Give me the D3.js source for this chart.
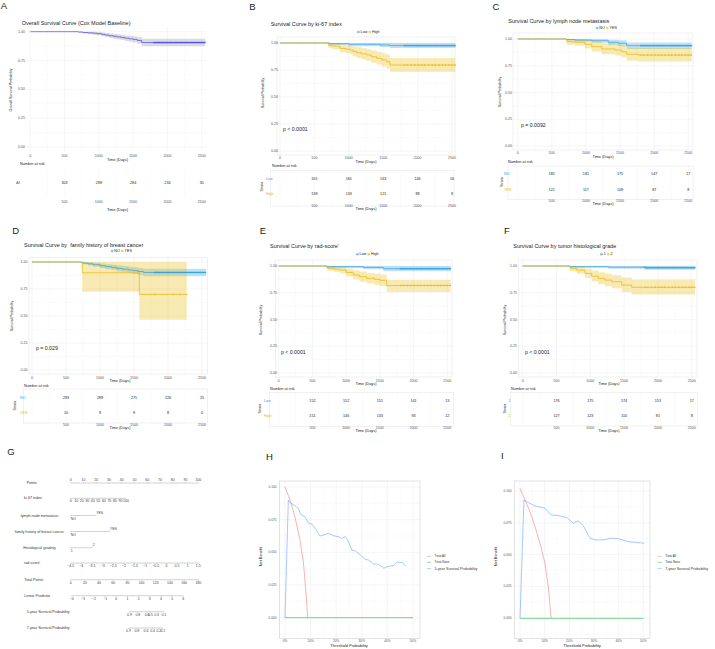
<!DOCTYPE html>
<html>
<head>
<meta charset="utf-8">
<script src="https://cdnjs.cloudflare.com/ajax/libs/d3/7.8.5/d3.min.js"></script>
<style>
  body { margin: 0; background: #fff; }
  svg { display: block; font-family: "Liberation Sans", Arial, sans-serif; }
</style>
</head>
<body>
<div id="fig"></div>
<script>
// ---------- data ----------
const timeTicks = [0, 500, 1000, 1500, 2000, 2500];
const survTicks = [0, 0.25, 0.5, 0.75, 1];
const riskTimes = [500, 1000, 1500, 2000, 2500];

// km steps: [time, surv, lower, upper]
const kmAll = [[0,1,1,1],[700,0.997,0.991,1],[770,0.993,0.985,1],[840,0.99,0.979,1],[910,0.987,0.974,0.999],[970,0.983,0.969,0.997],[1040,0.977,0.961,0.993],[1090,0.971,0.953,0.989],[1150,0.965,0.945,0.985],[1210,0.96,0.939,0.981],[1260,0.955,0.933,0.977],[1320,0.95,0.927,0.973],[1380,0.944,0.92,0.968],[1440,0.938,0.913,0.964],[1500,0.933,0.906,0.96],[1560,0.924,0.896,0.953],[1625,0.906,0.874,0.939]];
const kmKiLow = [[0,1,1,1],[720,0.994,0.982,1],[1000,0.988,0.971,1],[1450,0.982,0.962,1],[1600,0.976,0.953,0.999]];
const kmKiHigh = [[0,1,1,1],[702,0.978,0.953,1],[760,0.971,0.943,0.999],[872,0.95,0.914,0.987],[950,0.943,0.905,0.982],[1017,0.935,0.895,0.976],[1060,0.921,0.877,0.966],[1114,0.91,0.862,0.96],[1180,0.9,0.85,0.951],[1260,0.889,0.836,0.943],[1330,0.872,0.816,0.93],[1405,0.858,0.8,0.918],[1480,0.843,0.783,0.906],[1550,0.827,0.765,0.893],[1599,0.796,0.734,0.862]];
const kmLnNo = [[0,1,1,1],[718,0.995,0.985,1],[840,0.99,0.976,1],[1084,0.984,0.966,1],[1328,0.969,0.944,0.994],[1474,0.96,0.932,0.988],[1597,0.938,0.907,0.968]];
const kmLnYes = [[0,1,1,1],[718,0.975,0.947,1],[840,0.969,0.938,1],[986,0.95,0.912,0.99],[1084,0.928,0.883,0.975],[1231,0.907,0.857,0.96],[1426,0.897,0.845,0.952],[1524,0.881,0.826,0.94],[1597,0.857,0.797,0.921],[1768,0.85,0.789,0.915]];
const kmFamNo = [[0,1,1,1],[740,0.99,0.979,1],[820,0.983,0.968,0.998],[900,0.975,0.957,0.993],[1000,0.965,0.944,0.986],[1080,0.957,0.934,0.98],[1170,0.95,0.925,0.975],[1245,0.94,0.913,0.968],[1330,0.933,0.904,0.962],[1420,0.925,0.895,0.956],[1490,0.92,0.889,0.952],[1560,0.912,0.879,0.945],[1637,0.903,0.869,0.938]];
const kmFamYes = [[0,1,1,1],[740,0.9,0.725,1],[1578,0.7,0.466,1]];
const kmRadLow = [[0,1,1,1],[712,0.994,0.981,1],[1255,0.987,0.969,1],[1551,0.975,0.951,0.999]];
const kmRadHigh = [[0,1,1,1],[721,0.978,0.955,1],[830,0.97,0.943,0.997],[909,0.963,0.933,0.993],[1000,0.94,0.903,0.977],[1106,0.916,0.873,0.96],[1200,0.9,0.853,0.948],[1305,0.885,0.836,0.935],[1420,0.875,0.823,0.928],[1502,0.866,0.813,0.921],[1601,0.818,0.757,0.87]];
const kmGrade1 = [[0,1,1,1],[700,0.994,0.983,1],[1266,0.989,0.974,1],[1809,0.984,0.965,1]];
const kmGrade2 = [[0,1,1,1],[700,0.978,0.952,1],[800,0.961,0.928,0.995],[921,0.931,0.888,0.976],[1020,0.905,0.855,0.957],[1118,0.885,0.83,0.942],[1216,0.868,0.81,0.93],[1316,0.853,0.792,0.917],[1464,0.822,0.756,0.892],[1612,0.801,0.733,0.875]];

const censorDense = [1803,1820,1834,1851,1868,1884,1903,1919,1938,1955,1973,1990,2008,2027,2044,2062,2080,2099,2117,2133,2152,2170,2188,2207,2224,2243,2261,2279,2296,2315,2333,2351,2368,2387,2405,2424,2441,2460,2478,2495,2514,2531,2548];
const censorSparse = [1810,1852,1905,1958,2012,2061,2104,2160,2212,2258,2311,2362,2405,2457,2500,2545];
const censorFamYes = [1809,2078,2176,2275];

// numbers at risk
const riskAll = [303, 298, 284, 234, 35];
const riskKiLow = [165, 165, 163, 146, 16];
const riskKiHigh = [138, 133, 121, 88, 9];
const riskLnNo = [182, 181, 175, 147, 17];
const riskLnYes = [121, 117, 109, 87, 8];
const riskFamNo = [293, 289, 275, 226, 25];
const riskFamYes = [10, 9, 9, 8, 0];
const riskRadLow = [152, 152, 151, 141, 13];
const riskRadHigh = [151, 146, 133, 93, 12];
const riskGrade1 = [176, 175, 174, 153, 17];
const riskGrade2 = [127, 123, 110, 81, 8];

// nomogram
const pointsTicks = [0, 10, 20, 30, 40, 50, 60, 70, 80, 90, 100];
const ki67Ticks = [0, 10, 20, 30, 40, 50, 60, 70, 80, 90, 100];
const ki67MaxPoints = 43.3;
const lymphLevels = ["NO", "YES"], lymphPoints = [0, 19.6];
const familyLevels = ["NO", "YES"], familyPoints = [0, 30.3];
const gradeLevels = ["1", "2"], gradePoints = [0, 16.9];
const radTicks = [-4.5, -4, -3.5, -3, -2.5, -2, -1.5, -1, -0.5, 0, 0.5, 1, 1.5];
const totalTicks = [0, 20, 40, 60, 80, 100, 120, 140, 160, 180];
const lpTicks = [-4, -3, -2, -1, 0, 1, 2, 3, 4, 5, 6];
const surv5Ticks = [0.9, 0.8, 0.6, 0.5, 0.3, 0.1];
const surv7Ticks = [0.9, 0.8, 0.6, 0.4, 0.2, 0.1];
const baseSurv5 = 0.968, baseSurv7 = 0.965;

// decision curves: [threshold, net benefit]
const dcaTreatAll5 = [[0,0.1],[0.02,0.09],[0.039,0.077],[0.059,0.059],[0.072,0.042],[0.082,0.019],[0.089,0]];
const dcaModel5 = [[0,0],[0.013,0.09],[0.02,0.088],[0.04,0.0854],[0.052,0.0836],[0.062,0.0788],[0.078,0.0772],[0.092,0.0722],[0.105,0.0716],[0.118,0.0683],[0.137,0.0625],[0.15,0.0632],[0.17,0.0645],[0.19,0.0627],[0.21,0.0619],[0.222,0.0607],[0.235,0.0619],[0.244,0.0599],[0.261,0.0518],[0.274,0.0512],[0.294,0.048],[0.314,0.0446],[0.327,0.0441],[0.346,0.0411],[0.36,0.0411],[0.373,0.0398],[0.386,0.0378],[0.4,0.039],[0.412,0.0395],[0.425,0.0398],[0.439,0.0428],[0.459,0.042],[0.472,0.0395]];
const dcaTreatAll7 = [[0,0.1022],[0.02,0.093],[0.0405,0.0838],[0.061,0.072],[0.081,0.059],[0.101,0.0432],[0.115,0.0249],[0.126,0]];
const dcaModel7 = [[0,0],[0.016,0.093],[0.034,0.0909],[0.061,0.0883],[0.101,0.0865],[0.126,0.0812],[0.155,0.0807],[0.19,0.0791],[0.216,0.0747],[0.236,0.0765],[0.257,0.0726],[0.283,0.0629],[0.304,0.0616],[0.337,0.0616],[0.371,0.0629],[0.398,0.0626],[0.438,0.0602],[0.466,0.0597],[0.504,0.059]];
const dcaTreatNone = [[0,0],[0.5,0]];
const dcaXTicks = [0, 0.1, 0.2, 0.3, 0.4, 0.5];
const dcaYTicks = [0, 0.025, 0.05, 0.075, 0.1];

// ---------- drawing ----------
const BLUE = "#2E9FDF", GOLD = "#E7B800", ALLBLUE = "#4646ff";
const svg = d3.select("#fig").append("svg").attr("width", 715).attr("height", 649);
svg.append("rect").attr("width", 715).attr("height", 649).attr("fill", "#fff");

function txt(g, x, y, s, size, o = {}) {
  return g.append("text").attr("x", x).attr("y", y).text(s)
    .attr("font-size", size).attr("fill", o.fill || "#222")
    .attr("text-anchor", o.anchor || "start")
    .attr("dominant-baseline", "central")
    .style("white-space", "pre");
}
function vtxt(g, x, y, s, size) {
  return g.append("text").attr("transform", `translate(${x},${y}) rotate(-90)`)
    .text(s).attr("font-size", size).attr("fill", "#222")
    .attr("text-anchor", "middle").attr("dominant-baseline", "central");
}
function letter(s, pos) {
  txt(svg, pos[0], pos[1], s, 9.5, { anchor: "middle", fill: "#1a1a1a" });
}

function stepPoints(rows, end) {
  const pts = rows.map(r => ({ t: r[0], s: r[1], lo: r[2], hi: r[3] }));
  const last = pts[pts.length - 1];
  pts.push({ t: end, s: last.s, lo: last.lo, hi: last.hi });
  return pts;
}

function drawKM(p) {
  const g = svg.append("g");
  const x = d3.scaleLinear().domain([0, 2500]).range(p.xr);
  const y = d3.scaleLinear().domain([0, 1]).range(p.yr);
  const [bl, br, bt, bb] = p.box;

  letter(p.letter, p.letterPos);
  txt(g, p.titlePos[0], p.titlePos[1], p.title, 5.5);

  // grid
  const minorT = d3.range(-250, 3000, 500).filter(t => x(t) > bl && x(t) < br);
  const minorS = [0.125, 0.375, 0.625, 0.875];
  g.selectAll(null).data(minorT).join("line")
    .attr("x1", d => x(d)).attr("x2", d => x(d)).attr("y1", bt).attr("y2", bb)
    .attr("stroke", "#f4f4f4").attr("stroke-width", 0.35);
  g.selectAll(null).data(minorS).join("line")
    .attr("x1", bl).attr("x2", br).attr("y1", d => y(d)).attr("y2", d => y(d))
    .attr("stroke", "#f4f4f4").attr("stroke-width", 0.35);
  g.selectAll(null).data(timeTicks).join("line")
    .attr("x1", d => x(d)).attr("x2", d => x(d)).attr("y1", bt).attr("y2", bb)
    .attr("stroke", "#ebebeb").attr("stroke-width", 0.45);
  g.selectAll(null).data(survTicks).join("line")
    .attr("x1", bl).attr("x2", br).attr("y1", d => y(d)).attr("y2", d => y(d))
    .attr("stroke", "#ebebeb").attr("stroke-width", 0.45);
  if (p.border) {
    g.append("rect").attr("x", bl).attr("y", bt).attr("width", br - bl).attr("height", bb - bt)
      .attr("fill", "none").attr("stroke", "#e3e3e3").attr("stroke-width", 0.5);
  }

  // ticks
  g.selectAll(null).data(survTicks).join("text")
    .attr("x", p.ytickRight).attr("y", d => y(d)).text(d3.format(".2f"))
    .attr("font-size", 3.6).attr("fill", "#555").attr("text-anchor", "end").attr("dominant-baseline", "central");
  g.selectAll(null).data(timeTicks).join("text")
    .attr("x", d => x(d)).attr("y", p.xtickY).text(d => d)
    .attr("font-size", 3.6).attr("fill", "#555").attr("text-anchor", "middle").attr("dominant-baseline", "central");
  txt(g, p.xlabX, p.xlabY, "Time (Days)", 3.9, { anchor: "middle" });
  vtxt(g, p.ylabPos[0], p.ylabPos[1], p.ylab, 3.6);

  // curves
  const area = d3.area().curve(d3.curveStepAfter)
    .x(d => x(d.t)).y0(d => y(d.lo)).y1(d => y(d.hi));
  const line = d3.line().curve(d3.curveStepAfter).x(d => x(d.t)).y(d => y(d.s));
  p.curves.forEach(c => {
    const pts = stepPoints(c.rows, c.end || 2550);
    g.append("path").attr("d", area(pts)).attr("fill", c.fill || c.color).attr("fill-opacity", c.alpha || 0.3);
  });
  p.curves.forEach(c => {
    const end = c.end || 2550;
    const pts = stepPoints(c.rows, end);
    g.append("path").attr("d", line(pts)).attr("fill", "none").attr("stroke", c.color).attr("stroke-width", 0.7);
    const bis = d3.bisector(d => d[0]).right;
    const marks = c.censor.filter(t => t <= end).map(t => [t, c.rows[bis(c.rows, t) - 1][1]]);
    g.selectAll(null).data(marks).join("path")
      .attr("d", d => `M${x(d[0]) - 1},${y(d[1])}h2M${x(d[0])},${y(d[1]) - 1}v2`)
      .attr("stroke", c.color).attr("stroke-width", 0.45);
  });

  // legend
  if (p.legend) {
    const lg = g.append("g");
    let cx = 0;
    p.legend.labels.forEach((lab, i) => {
      const col = i === 0 ? BLUE : GOLD;
      lg.append("rect").attr("x", cx).attr("y", p.legend.y - 1.2).attr("width", 2.4).attr("height", 2.4)
        .attr("fill", col).attr("fill-opacity", 0.45);
      lg.append("line").attr("x1", cx).attr("x2", cx + 2.4).attr("y1", p.legend.y).attr("y2", p.legend.y)
        .attr("stroke", col).attr("stroke-width", 0.6);
      const t = txt(lg, cx + 3.4, p.legend.y, lab, 3.7);
      cx += 3.4 + t.node().getComputedTextLength() + 1.2;
    });
    lg.attr("transform", `translate(${p.legend.cx - cx / 2},0)`);
  }
  if (p.pval) txt(g, p.pval.x, p.pval.y, p.pval.text, 5.2);

  // risk table
  txt(g, p.nar[0], p.nar[1], "Number at risk", 3.8);
  const tb = p.table;
  if (tb.box) {
    g.selectAll(null).data(d3.range(0, 2750, 250).filter(t => x(t) > tb.box[0] && x(t) < tb.box[1])).join("line")
      .attr("x1", d => x(d)).attr("x2", d => x(d)).attr("y1", tb.box[2]).attr("y2", tb.box[3])
      .attr("stroke", "#f2f2f2").attr("stroke-width", 0.4);
    g.append("rect").attr("x", tb.box[0]).attr("y", tb.box[2])
      .attr("width", tb.box[1] - tb.box[0]).attr("height", tb.box[3] - tb.box[2])
      .attr("fill", "none").attr("stroke", "#e3e3e3").attr("stroke-width", 0.5);
  } else {
    g.selectAll(null).data(d3.range(250, 2750, 250)).join("line")
      .attr("x1", d => x(d)).attr("x2", d => x(d)).attr("y1", tb.grid[0]).attr("y2", tb.grid[1])
      .attr("stroke", "#f2f2f2").attr("stroke-width", 0.4);
  }
  p.groups.forEach((grp, i) => {
    txt(g, p.rowLabX, p.rowY[i], grp, 3.7, { fill: p.groupColors[i] });
    g.selectAll(null).data(p.risk[i]).join("text")
      .attr("x", (d, j) => x(riskTimes[j])).attr("y", p.rowY[i]).text(d => d)
      .attr("font-size", 3.7).attr("fill", "#222").attr("text-anchor", "middle").attr("dominant-baseline", "central");
  });
  if (p.strataX) vtxt(g, p.strataX, (p.rowY[0] + p.rowY[1]) / 2, "Strata", 3.7);
  g.selectAll(null).data(riskTimes).join("text")
    .attr("x", d => x(d)).attr("y", p.tableTickY).text(d => d)
    .attr("font-size", 3.6).attr("fill", "#555").attr("text-anchor", "middle").attr("dominant-baseline", "central");
  txt(g, p.xlabX, p.tableXlabY, "Time (Days)", 3.9, { anchor: "middle" });
}

const kmPanels = [
  { letter: "A", letterPos: [4, 5.5], title: "Overall Survival Curve (Cox Model Baseline)", titlePos: [21.7, 22.8],
    xr: [30.3, 201.7], yr: [147, 31.7], box: [27, 207, 27, 151], border: false,
    ytickRight: 25, xtickY: 155.5, xlabX: 117.5, xlabY: 159.5,
    ylab: "Overall Survival Probability", ylabPos: [11, 90],
    curves: [{ rows: kmAll, color: ALLBLUE, fill: "#8c8c8c", alpha: 0.3, censor: censorDense }],
    nar: [20, 163.5], table: { grid: [169, 197] },
    groups: ["All"], groupColors: [ALLBLUE], risk: [riskAll], rowY: [183], rowLabX: 16,
    tableTickY: 201.5, tableXlabY: 209 },
  { letter: "B", letterPos: [252.5, 6], title: "Survival Curve by ki-67 index", titlePos: [270.7, 24],
    xr: [280, 452], yr: [151, 43], box: [277, 455, 37, 155], border: true,
    ytickRight: 278, xtickY: 158, xlabX: 366, xlabY: 161.5,
    ylab: "Survival Probability", ylabPos: [262.7, 93],
    legend: { labels: ["Low", "High"], cx: 369, y: 32 }, pval: { text: "p < 0.0001", x: 283, y: 129 },
    curves: [{ rows: kmKiLow, color: BLUE, censor: censorDense }, { rows: kmKiHigh, color: GOLD, censor: censorSparse }],
    nar: [272, 166], table: { box: [270.7, 454, 170.7, 206] },
    groups: ["Low", "High"], groupColors: [BLUE, GOLD], risk: [riskKiLow, riskKiHigh], rowY: [179, 194], rowLabX: 266, strataX: 261.5,
    tableTickY: 205.5, tableXlabY: 208.5 },
  { letter: "C", letterPos: [496, 6.3], title: "Survival Curve by lymph node metastasis", titlePos: [508.3, 20.5],
    xr: [517.7, 688.3], yr: [146, 39], box: [513, 693, 33, 150], border: true,
    ytickRight: 512, xtickY: 153, xlabX: 603, xlabY: 156,
    ylab: "Survival Probability", ylabPos: [500, 92],
    legend: { labels: ["NO", "YES"], cx: 607, y: 28 }, pval: { text: "p = 0.0092", x: 521, y: 125 },
    curves: [{ rows: kmLnNo, color: BLUE, censor: censorDense }, { rows: kmLnYes, color: GOLD, censor: censorSparse }],
    nar: [508, 162], table: { box: [508, 693, 166, 199.3] },
    groups: ["NO", "YES"], groupColors: [BLUE, GOLD], risk: [riskLnNo, riskLnYes], rowY: [174, 190], rowLabX: 504, strataX: 501.5,
    tableTickY: 200.5, tableXlabY: 203 },
  { letter: "D", letterPos: [15.8, 230], title: "Survival Curve by  family history of breast cancer", titlePos: [24, 245],
    xr: [32, 202], yr: [370, 262], box: [29, 207.7, 257.3, 374], border: true,
    ytickRight: 27.5, xtickY: 378, xlabX: 120, xlabY: 380.5,
    ylab: "Survival Probability", ylabPos: [12, 316],
    legend: { labels: ["NO", "YES"], cx: 122, y: 251 }, pval: { text: "p = 0.029", x: 36, y: 348 },
    curves: [{ rows: kmFamNo, color: BLUE, censor: censorDense, end: 2560 }, { rows: kmFamYes, color: GOLD, censor: censorFamYes, end: 2275 }],
    nar: [24, 386], table: { box: [23.3, 207.3, 389, 423] },
    groups: ["NO", "YES"], groupColors: [BLUE, GOLD], risk: [riskFamNo, riskFamYes], rowY: [398, 413], rowLabX: 20, strataX: 15,
    tableTickY: 424.5, tableXlabY: 427.5 },
  { letter: "E", letterPos: [262.8, 230.5], title: "Survival Curve by rad-score'", titlePos: [270, 245.7],
    xr: [278.7, 447.3], yr: [373, 266], box: [275.5, 452, 260, 377], border: true,
    ytickRight: 277, xtickY: 380.7, xlabX: 366, xlabY: 383.7,
    ylab: "Survival Probability", ylabPos: [260.7, 320],
    legend: { labels: ["Low", "High"], cx: 368, y: 254.3 }, pval: { text: "p < 0.0001", x: 281, y: 352 },
    curves: [{ rows: kmRadLow, color: BLUE, censor: censorDense }, { rows: kmRadHigh, color: GOLD, censor: censorSparse }],
    nar: [270, 388.7], table: { box: [269.3, 453.3, 392.7, 426.7] },
    groups: ["Low", "High"], groupColors: [BLUE, GOLD], risk: [riskRadLow, riskRadHigh], rowY: [401, 416.3], rowLabX: 264, strataX: 259.5,
    tableTickY: 427.7, tableXlabY: 430.7 },
  { letter: "F", letterPos: [507, 230], title: "Survival Curve by tumor histological grade", titlePos: [513.3, 245.8],
    xr: [522.7, 691.7], yr: [373, 266], box: [518.5, 697, 260, 377], border: true,
    ytickRight: 517, xtickY: 380.7, xlabX: 609, xlabY: 383.7,
    ylab: "Survival Probability", ylabPos: [505, 320],
    legend: { labels: ["1", "2"], cx: 607, y: 254.3 }, pval: { text: "p < 0.0001", x: 525, y: 352 },
    curves: [{ rows: kmGrade1, color: BLUE, censor: censorDense }, { rows: kmGrade2, color: GOLD, censor: censorSparse }],
    nar: [511, 388.7], table: { box: [510.7, 697.7, 392.7, 426] },
    groups: ["1", "2"], groupColors: [BLUE, GOLD], risk: [riskGrade1, riskGrade2], rowY: [401, 416.3], rowLabX: 508.5, strataX: 505,
    tableTickY: 427.7, tableXlabY: 430.7 }
];
kmPanels.forEach(drawKM);

// ---------- nomogram (G) ----------
function drawNomogram() {
  const g = svg.append("g");
  letter("G", [11, 451.7]);
  const ptsX = d3.scaleLinear().domain([0, 100]).range([70.7, 198.3]);
  const totX = d3.scaleLinear().domain([0, 180]).range([70.7, 198.3]);
  const lpX = d3.scaleLinear().domain([-4, 6]).range([71.7, 183.3]);
  const fmt = d3.format("");
  const LC = "#9a9a9a", TC = "#444";

  function axisRow(label, lx, y, xs, labels, above) {
    txt(g, lx, y, label, 3.7, { fill: "#333" });
    g.append("line").attr("x1", d3.min(xs)).attr("x2", d3.max(xs)).attr("y1", y).attr("y2", y)
      .attr("stroke", LC).attr("stroke-width", 0.45);
    g.selectAll(null).data(xs).join("line")
      .attr("x1", d => d).attr("x2", d => d).attr("y1", y).attr("y2", above ? y - 1 : y + 1)
      .attr("stroke", LC).attr("stroke-width", 0.35);
    g.selectAll(null).data(labels).join("text")
      .attr("x", (d, i) => xs[i]).attr("y", above ? y - 2.8 : y + 3).text(d => d)
      .attr("font-size", 3.5).attr("fill", TC).attr("text-anchor", "middle").attr("dominant-baseline", "central");
  }
  function catRow(label, lx, y, levels, pts) {
    txt(g, lx, y, label, 3.7, { fill: "#333" });
    const xs = pts.map(ptsX);
    g.append("line").attr("x1", xs[0]).attr("x2", xs[1]).attr("y1", y).attr("y2", y)
      .attr("stroke", LC).attr("stroke-width", 0.45);
    g.selectAll(null).data(xs).join("line")
      .attr("x1", d => d).attr("x2", d => d).attr("y1", y).attr("y2", (d, i) => i ? y - 1 : y + 1)
      .attr("stroke", LC).attr("stroke-width", 0.35);
    txt(g, xs[0], y + 3, levels[0], 3.5, { fill: TC });
    txt(g, xs[1] + 0.5, y - 3, levels[1], 3.5, { fill: TC });
  }

  axisRow("Points", 26.7, 483, pointsTicks.map(ptsX), pointsTicks, true);
  axisRow("ki-67 index", 24, 498.3, ki67Ticks.map(v => ptsX(v * ki67MaxPoints / 100)), ki67Ticks, false);
  catRow("lymph node metastasis", 20.7, 515.5, lymphLevels, lymphPoints);
  catRow("family history of breast cancer", 14.7, 531.5, familyLevels, familyPoints);
  catRow("Histological grading", 23.3, 547.7, gradeLevels, gradePoints);
  axisRow("rad-score'", 24, 563, radTicks.map(v => ptsX((v + 4.5) / 6 * 100)), radTicks.map(fmt), false);
  axisRow("Total Points", 24.3, 579.7, totalTicks.map(totX), totalTicks, false);
  axisRow("Linear Predictor", 24.3, 595.7, lpTicks.map(lpX), lpTicks.map(fmt), false);
  const survPos = (p, s0) => lpX(Math.log(Math.log(p) / Math.log(s0)));
  axisRow("5-year Survival Probability", 26.7, 611.7, surv5Ticks.map(p => survPos(p, baseSurv5)), surv5Ticks, false);
  axisRow("7-year Survival Probability", 26.7, 628, surv7Ticks.map(p => survPos(p, baseSurv7)), surv7Ticks, false);
}
drawNomogram();

// ---------- decision curves (H, I) ----------
function drawDCA(c) {
  const g = svg.append("g");
  letter(c.letter, c.letterPos);
  const x = d3.scaleLinear().domain([0, 0.5]).range(c.xr);
  const y = d3.scaleLinear().domain([0, 0.1]).range(c.yr);
  const [bl, br, bt, bb] = c.box;
  const minorX = [0.05, 0.15, 0.25, 0.35, 0.45];
  const minorY = [-0.0125, 0.0125, 0.0375, 0.0625, 0.0875].filter(v => y(v) < bb && y(v) > bt);
  g.selectAll(null).data(minorX).join("line")
    .attr("x1", d => x(d)).attr("x2", d => x(d)).attr("y1", bt).attr("y2", bb)
    .attr("stroke", "#f3f3f3").attr("stroke-width", 0.35);
  g.selectAll(null).data(minorY).join("line")
    .attr("x1", bl).attr("x2", br).attr("y1", d => y(d)).attr("y2", d => y(d))
    .attr("stroke", "#f3f3f3").attr("stroke-width", 0.35);
  g.selectAll(null).data(dcaXTicks).join("line")
    .attr("x1", d => x(d)).attr("x2", d => x(d)).attr("y1", bt).attr("y2", bb)
    .attr("stroke", "#e9e9e9").attr("stroke-width", 0.45);
  g.selectAll(null).data(dcaYTicks).join("line")
    .attr("x1", bl).attr("x2", br).attr("y1", d => y(d)).attr("y2", d => y(d))
    .attr("stroke", "#e9e9e9").attr("stroke-width", 0.45);
  g.append("rect").attr("x", bl).attr("y", bt).attr("width", br - bl).attr("height", bb - bt)
    .attr("fill", "none").attr("stroke", "#cfcfcf").attr("stroke-width", 0.6);

  g.selectAll(null).data(dcaYTicks).join("text")
    .attr("x", c.ytickRight).attr("y", d => y(d)).text(d3.format(".3f"))
    .attr("font-size", 3.2).attr("fill", "#555").attr("text-anchor", "end").attr("dominant-baseline", "central");
  g.selectAll(null).data(dcaXTicks).join("text")
    .attr("x", d => x(d)).attr("y", c.xtickY).text(d3.format(".0%"))
    .attr("font-size", 3.2).attr("fill", "#555").attr("text-anchor", "middle").attr("dominant-baseline", "central");
  txt(g, c.xlabX, c.xlabY, "Threshold Probability", 4, { anchor: "middle" });
  vtxt(g, c.ylabPos[0], c.ylabPos[1], "Net Benefit", 3.9);

  const line = d3.line().x(d => x(d[0])).y(d => y(d[1]));
  const series = [
    { data: c.treatAll, color: "#F8766D", name: "Treat All", size: 3 },
    { data: dcaTreatNone, color: "#00BA38", name: "Treat None", size: 3 },
    { data: c.model, color: "#619CFF", name: c.modelName, size: 3.7 }
  ];
  series.forEach(s => {
    g.append("path").attr("d", line(s.data)).attr("fill", "none")
      .attr("stroke", s.color).attr("stroke-opacity", 0.7).attr("stroke-width", 0.8);
  });
  series.forEach((s, i) => {
    g.append("line").attr("x1", c.legX).attr("x2", c.legX + 4).attr("y1", c.legY[i]).attr("y2", c.legY[i])
      .attr("stroke", s.color).attr("stroke-opacity", 0.7).attr("stroke-width", 0.7);
    txt(g, c.legX + 7.5, c.legY[i], s.name, s.size, { fill: "#333" });
  });
}

drawDCA({ letter: "H", letterPos: [269.5, 456.2], xr: [285, 413], yr: [617.7, 487], box: [279.3, 420, 481, 638.3],
  ytickRight: 276.5, xtickY: 640.8, xlabX: 349, xlabY: 645, ylabPos: [260.7, 556.7],
  treatAll: dcaTreatAll5, model: dcaModel5, modelName: "5-year Survival Probability",
  legX: 427, legY: [556.3, 562.3, 568.6] });
drawDCA({ letter: "I", letterPos: [502.3, 455.3], xr: [520, 643.3], yr: [618.3, 491], box: [514.3, 650, 481, 638.3],
  ytickRight: 511.5, xtickY: 640.8, xlabX: 582, xlabY: 645, ylabPos: [495.7, 556.7],
  treatAll: dcaTreatAll7, model: dcaModel7, modelName: "7-year Survival Probability",
  legX: 657.7, legY: [556.3, 562.3, 568.6] });
</script>
</body>
</html>
